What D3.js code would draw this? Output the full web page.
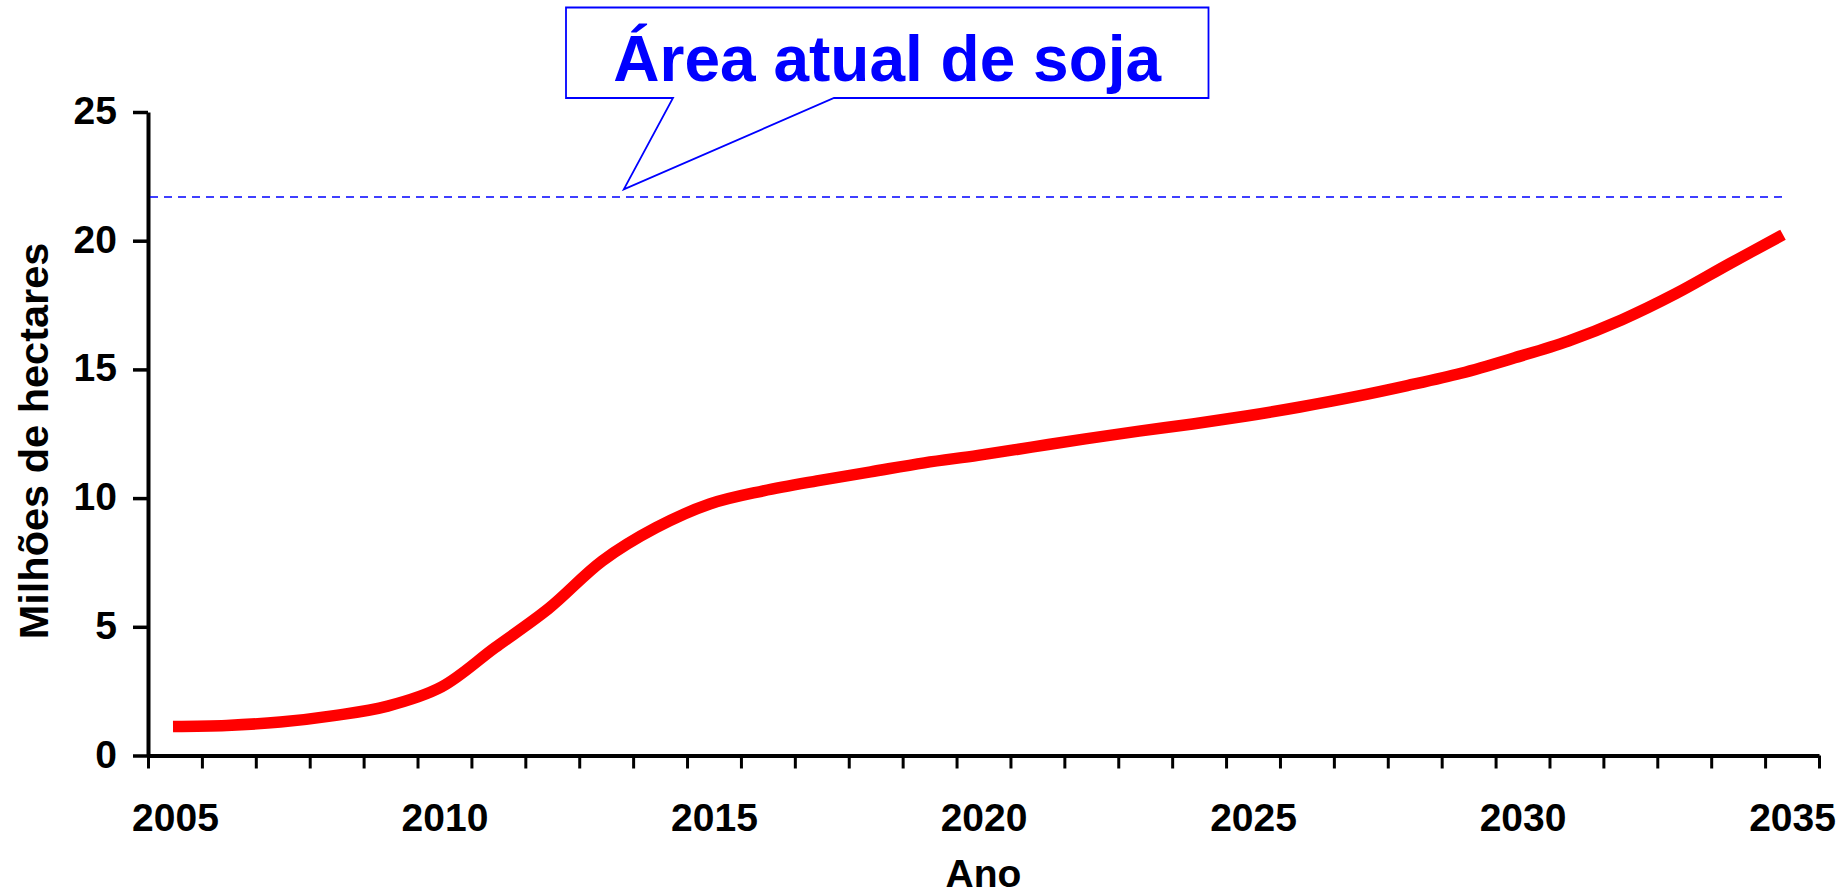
<!DOCTYPE html>
<html>
<head>
<meta charset="utf-8">
<script src="https://cdn.jsdelivr.net/npm/d3@7"></script>
<style>
  body { margin: 0; background: #fff; }
  svg { display: block; }
  text { font-family: "Liberation Sans", Arial, sans-serif; font-weight: bold; }
</style>
</head>
<body>
<div id="chart"></div>
<script>
// data
const years = [2005, 2006, 2007, 2008, 2009, 2010, 2011, 2012, 2013, 2014,
               2015, 2016, 2017, 2018, 2019, 2020, 2021, 2022, 2023, 2024,
               2025, 2026, 2027, 2028, 2029, 2030, 2031, 2032, 2033, 2034, 2035];
const areaMha = [1.13, 1.17, 1.30, 1.55, 1.92, 2.66, 4.19, 5.71, 7.56, 8.85,
                 9.77, 10.28, 10.67, 11.02, 11.37, 11.66, 11.98, 12.30, 12.60, 12.88,
                 13.19, 13.54, 13.93, 14.37, 14.85, 15.45, 16.10, 16.93, 17.94, 19.10, 20.23];
const xTickLabels = [2005, 2010, 2015, 2020, 2025, 2030, 2035];
const yTickValues = [0, 5, 10, 15, 20, 25];
const sojaArea = 21.7;
const calloutText = 'Área atual de soja';
const xTitle = 'Ano';
const yTitle = 'Milhões de hectares';

const width = 1843, height = 896;
const blue = '#0000ff';

const svg = d3.select('#chart')
    .append('svg')
    .attr('width', width)
    .attr('height', height);

// category axis: one slot per year
const x = d3.scaleLinear().domain([2004.5, 2035.5]).range([148, 1819]);
// the line itself sits a bit inside the slots
const xLine = d3.scaleLinear().domain([2005, 2035]).range([173, 1783]);
const y = d3.scaleLinear().domain([0, 25]).range([755.5, 112]);

const dataset = years.map((yr, i) => ({ year: yr, value: areaMha[i] }));

// X axis ticks at slot boundaries
const bounds = years.map(d => d - 0.5).concat([years[years.length - 1] + 0.5]);
const xAxis = svg.append('g')
    .attr('transform', `translate(0,${y(0)})`)
    .call(d3.axisBottom(x).tickValues(bounds).tickSize(13).tickSizeOuter(0).tickFormat(''));
xAxis.select('.domain').attr('stroke', '#000').attr('stroke-width', 4);
xAxis.selectAll('.tick line').attr('stroke', '#000').attr('stroke-width', 3);

// X labels in the middle of slots
const xLabels = svg.append('g')
    .attr('transform', `translate(0,${y(0)})`)
    .call(d3.axisBottom(x).tickValues(xTickLabels).tickSize(0).tickFormat(d3.format('d')));
xLabels.select('.domain').remove();
xLabels.selectAll('text')
    .attr('y', 75.5)
    .attr('dy', 0)
    .style('font-size', '39px')
    .attr('fill', '#000');

// Y axis
const yAxis = svg.append('g')
    .attr('transform', `translate(${x(2004.5)},0)`)
    .call(d3.axisLeft(y).tickValues(yTickValues).tickSize(15).tickSizeOuter(0));
yAxis.select('.domain').attr('stroke', '#000').attr('stroke-width', 4);
yAxis.selectAll('.tick line').attr('stroke', '#000').attr('stroke-width', 3.5);
yAxis.selectAll('text')
    .attr('x', -31)
    .attr('dy', 0)
    .attr('y', 11.5)
    .style('font-size', '39px')
    .attr('fill', '#000');

// current soybean area, dashed
svg.append('line')
    .attr('x1', x(2004.5) + 2)
    .attr('x2', xLine(2035))
    .attr('y1', y(sojaArea))
    .attr('y2', y(sojaArea))
    .attr('stroke', blue)
    .attr('stroke-width', 1.5)
    .attr('stroke-dasharray', '8,6');

// the projection line
svg.append('path')
    .datum(dataset)
    .attr('fill', 'none')
    .attr('stroke', '#ff0000')
    .attr('stroke-width', 11.5)
    .attr('stroke-linecap', 'butt')
    .attr('d', d3.line()
        .curve(d3.curveCatmullRom.alpha(0.5))
        .x(d => xLine(d.year))
        .y(d => y(d.value)));

// callout
const box = { left: 566, top: 7.5, right: 1208.5, bottom: 98 };
const tipX = xLine(2013.4), tipY = y(sojaArea) - 7.5;
const callout = d3.path();
callout.moveTo(box.left, box.top);
callout.lineTo(box.right, box.top);
callout.lineTo(box.right, box.bottom);
callout.lineTo(834, box.bottom);
callout.lineTo(tipX, tipY);
callout.lineTo(673, box.bottom);
callout.lineTo(box.left, box.bottom);
callout.closePath();
svg.append('path')
    .attr('d', callout.toString())
    .attr('fill', '#fff')
    .attr('stroke', blue)
    .attr('stroke-width', 1.8);

svg.append('text')
    .attr('x', (box.left + box.right) / 2)
    .attr('y', 81)
    .attr('text-anchor', 'middle')
    .style('font-size', '64px')
    .attr('fill', blue)
    .text(calloutText);

// axis titles
svg.append('text')
    .attr('x', (x.range()[0] + x.range()[1]) / 2)
    .attr('y', 887)
    .attr('text-anchor', 'middle')
    .style('font-size', '39px')
    .attr('fill', '#000')
    .text(xTitle);

svg.append('text')
    .attr('transform', 'translate(48,441) rotate(-90)')
    .attr('text-anchor', 'middle')
    .style('font-size', '41.5px')
    .attr('fill', '#000')
    .text(yTitle);
</script>
</body>
</html>
